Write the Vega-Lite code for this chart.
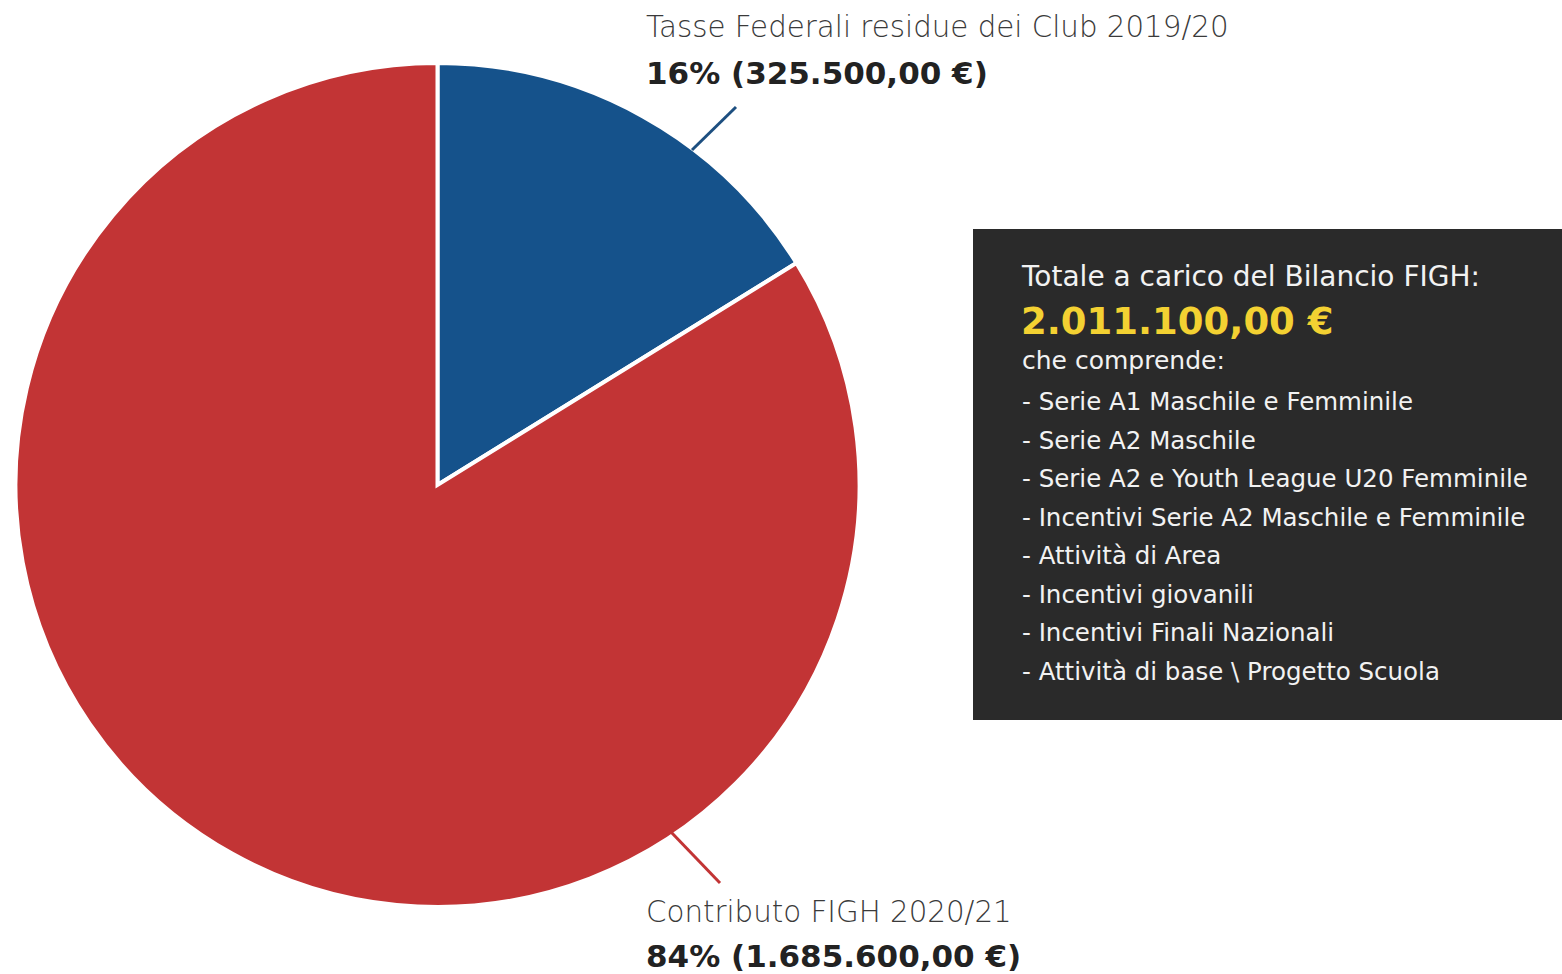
{
  "$schema": "https://vega.github.io/schema/vega-lite/v6.json",
  "width": 1562,
  "height": 974,
  "autosize": {"type": "fit", "contains": "padding"},
  "padding": 0,
  "background": "white",
  "config": {"view": {"stroke": null}},
  "datasets": {
    "slices": [
      {"voce": "Tasse Federali residue dei Club 2019/20", "importo": 325500, "quota": "16% (325.500,00 €)", "ordine": 1},
      {"voce": "Contributo FIGH 2020/21", "importo": 1685600, "quota": "84% (1.685.600,00 €)", "ordine": 2}
    ],
    "box": [
      {"titolo": "Totale a carico del Bilancio FIGH:", "totale": "2.011.100,00 €", "intro": "che comprende:"}
    ],
    "voci": [
      {"riga": 1, "testo": "- Serie A1 Maschile e Femminile"},
      {"riga": 2, "testo": "- Serie A2 Maschile"},
      {"riga": 3, "testo": "- Serie A2 e Youth League U20 Femminile"},
      {"riga": 4, "testo": "- Incentivi Serie A2 Maschile e Femminile"},
      {"riga": 5, "testo": "- Attività di Area"},
      {"riga": 6, "testo": "- Incentivi giovanili"},
      {"riga": 7, "testo": "- Incentivi Finali Nazionali"},
      {"riga": 8, "testo": "- Attività di base \\ Progetto Scuola"}
    ]
  },
  "resolve": {"scale": {"y": "independent"}},
  "layer": [
    {
      "data": {"name": "box"},
      "mark": {"type": "rect", "color": "#2a2a2a"},
      "encoding": {
        "x": {"datum": 973, "type": "quantitative", "scale": {"domain": [0, 1562]}, "axis": null},
        "x2": {"datum": 1562},
        "y": {"datum": 229, "type": "quantitative", "scale": {"domain": [0, 974], "reverse": true}, "axis": null},
        "y2": {"datum": 720}
      }
    },
    {
      "data": {"name": "slices"},
      "mark": {"type": "arc", "radius": 422, "stroke": "white", "strokeWidth": 4},
      "encoding": {
        "theta": {"field": "importo", "type": "quantitative", "stack": true},
        "order": {"field": "ordine", "type": "quantitative"},
        "color": {"field": "voce", "type": "nominal", "scale": {"domain": ["Tasse Federali residue dei Club 2019/20", "Contributo FIGH 2020/21"], "range": ["#15528b", "#c23435"]}, "legend": null},
        "x": {"datum": 437.5, "type": "quantitative", "scale": {"domain": [0, 1562]}, "axis": null},
        "y": {"datum": 485, "type": "quantitative", "scale": {"domain": [0, 974], "reverse": true}, "axis": null}
      }
    },
    {
      "data": {"name": "slices"},
      "transform": [{"filter": "datum.ordine == 1"}],
      "mark": {"type": "rule", "color": "#1d4f80", "strokeWidth": 3},
      "encoding": {
        "x": {"datum": 692, "type": "quantitative", "scale": {"domain": [0, 1562]}, "axis": null},
        "x2": {"datum": 736},
        "y": {"datum": 150, "type": "quantitative", "scale": {"domain": [0, 974], "reverse": true}, "axis": null},
        "y2": {"datum": 107}
      }
    },
    {
      "data": {"name": "slices"},
      "transform": [{"filter": "datum.ordine == 2"}],
      "mark": {"type": "rule", "color": "#c23435", "strokeWidth": 3},
      "encoding": {
        "x": {"datum": 671, "type": "quantitative", "scale": {"domain": [0, 1562]}, "axis": null},
        "x2": {"datum": 720},
        "y": {"datum": 832, "type": "quantitative", "scale": {"domain": [0, 974], "reverse": true}, "axis": null},
        "y2": {"datum": 883}
      }
    },
    {
      "data": {"name": "slices"},
      "transform": [{"filter": "datum.ordine == 1"}],
      "mark": {"type": "text", "align": "left", "baseline": "alphabetic", "font": "DejaVu Sans", "fontWeight": 200, "fontSize": 29.3, "color": "#3a3a3a"},
      "encoding": {
        "text": {"field": "voce"},
        "x": {"datum": 646, "type": "quantitative", "scale": {"domain": [0, 1562]}, "axis": null},
        "y": {"datum": 37, "type": "quantitative", "scale": {"domain": [0, 974], "reverse": true}, "axis": null}
      }
    },
    {
      "data": {"name": "slices"},
      "transform": [{"filter": "datum.ordine == 1"}],
      "mark": {"type": "text", "align": "left", "baseline": "alphabetic", "font": "DejaVu Sans", "fontWeight": "bold", "fontSize": 31, "color": "#222222"},
      "encoding": {
        "text": {"field": "quota"},
        "x": {"datum": 646, "type": "quantitative", "scale": {"domain": [0, 1562]}, "axis": null},
        "y": {"datum": 84, "type": "quantitative", "scale": {"domain": [0, 974], "reverse": true}, "axis": null}
      }
    },
    {
      "data": {"name": "slices"},
      "transform": [{"filter": "datum.ordine == 2"}],
      "mark": {"type": "text", "align": "left", "baseline": "alphabetic", "font": "DejaVu Sans", "fontWeight": 200, "fontSize": 29.3, "color": "#3a3a3a"},
      "encoding": {
        "text": {"field": "voce"},
        "x": {"datum": 646, "type": "quantitative", "scale": {"domain": [0, 1562]}, "axis": null},
        "y": {"datum": 922, "type": "quantitative", "scale": {"domain": [0, 974], "reverse": true}, "axis": null}
      }
    },
    {
      "data": {"name": "slices"},
      "transform": [{"filter": "datum.ordine == 2"}],
      "mark": {"type": "text", "align": "left", "baseline": "alphabetic", "font": "DejaVu Sans", "fontWeight": "bold", "fontSize": 31, "color": "#222222"},
      "encoding": {
        "text": {"field": "quota"},
        "x": {"datum": 646, "type": "quantitative", "scale": {"domain": [0, 1562]}, "axis": null},
        "y": {"datum": 967, "type": "quantitative", "scale": {"domain": [0, 974], "reverse": true}, "axis": null}
      }
    },
    {
      "data": {"name": "box"},
      "mark": {"type": "text", "align": "left", "baseline": "alphabetic", "font": "DejaVu Sans", "fontSize": 28, "color": "#f2f2f2"},
      "encoding": {
        "text": {"field": "titolo"},
        "x": {"datum": 1022, "type": "quantitative", "scale": {"domain": [0, 1562]}, "axis": null},
        "y": {"datum": 286, "type": "quantitative", "scale": {"domain": [0, 974], "reverse": true}, "axis": null}
      }
    },
    {
      "data": {"name": "box"},
      "mark": {"type": "text", "align": "left", "baseline": "alphabetic", "font": "DejaVu Sans", "fontWeight": "bold", "fontSize": 37, "color": "#f3d132"},
      "encoding": {
        "text": {"field": "totale"},
        "x": {"datum": 1021, "type": "quantitative", "scale": {"domain": [0, 1562]}, "axis": null},
        "y": {"datum": 334, "type": "quantitative", "scale": {"domain": [0, 974], "reverse": true}, "axis": null}
      }
    },
    {
      "data": {"name": "box"},
      "mark": {"type": "text", "align": "left", "baseline": "alphabetic", "font": "DejaVu Sans", "fontSize": 25, "color": "#f2f2f2"},
      "encoding": {
        "text": {"field": "intro"},
        "x": {"datum": 1022, "type": "quantitative", "scale": {"domain": [0, 1562]}, "axis": null},
        "y": {"datum": 369, "type": "quantitative", "scale": {"domain": [0, 974], "reverse": true}, "axis": null}
      }
    },
    {
      "data": {"name": "voci"},
      "mark": {"type": "text", "align": "left", "baseline": "alphabetic", "font": "DejaVu Sans", "fontSize": 24.5, "color": "#f2f2f2"},
      "encoding": {
        "text": {"field": "testo"},
        "x": {"datum": 1022, "type": "quantitative", "scale": {"domain": [0, 1562]}, "axis": null},
        "y": {"field": "riga", "type": "quantitative", "scale": {"domain": [-9.63, 15.622], "reverse": true, "nice": false, "zero": false}, "axis": null}
      }
    }
  ]
}
